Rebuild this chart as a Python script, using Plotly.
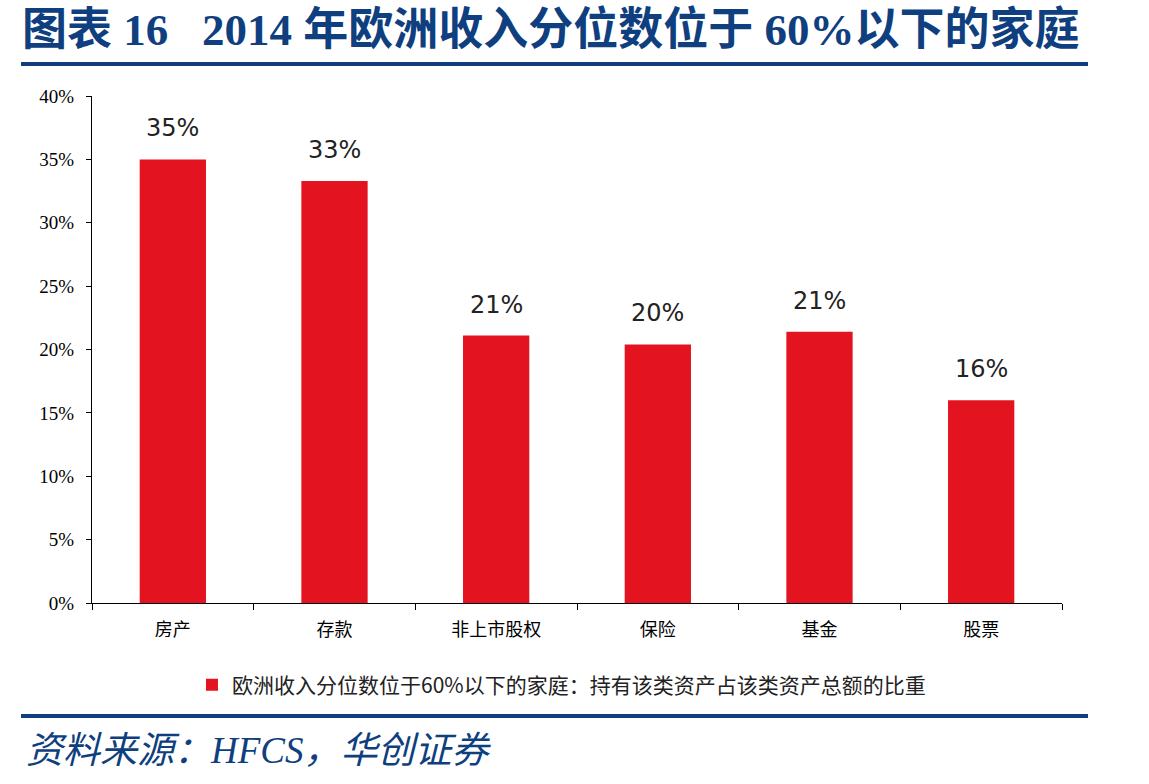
import plotly.graph_objects as go

categories = ["房产", "存款", "非上市股权", "保险", "基金", "股票"]
values = [0.350, 0.333, 0.211, 0.204, 0.214, 0.160]
series_name = "欧洲收入分位数位于60%以下的家庭：持有该类资产占该类资产总额的比重"
title_text = "图表 16   2014 年欧洲收入分位数位于 60%以下的家庭"
source_text = "资料来源：HFCS，华创证券"
y_ticks = [0, 0.05, 0.10, 0.15, 0.20, 0.25, 0.30, 0.35, 0.40]

W, H = 1149, 784
L, R, T, B = 92, 87, 96, 181
pw, ph = W - L - R, H - T - B

def px_x(x):
    return (x - L) / pw

def px_y(y):
    return (H - B - y) / ph

BLUE = "#0F3F7F"
RED = "#E3141F"

fig = go.Figure()
fig.add_trace(go.Bar(
    x=categories, y=values, name=series_name,
    marker=dict(color=RED, line=dict(width=0)),
    width=0.41,
))

for c, v in zip(categories, values):
    fig.add_annotation(x=c, y=v, text=f"{round(v*100):d}%", showarrow=False,
                       yanchor="bottom", yshift=15,
                       font=dict(family="DejaVu Sans", size=24, color="#222222"))

# title
fig.add_annotation(xref="paper", yref="paper", x=px_x(20), y=px_y(30),
                   xanchor="left", yanchor="middle", showarrow=False,
                   text=f"<b>{title_text}</b>",
                   font=dict(family="Liberation Serif, Noto Sans CJK SC", size=45, color=BLUE))
# source
fig.add_annotation(xref="paper", yref="paper", x=px_x(24), y=px_y(750),
                   xanchor="left", yanchor="middle", showarrow=False,
                   text=f"<i>{source_text}</i>",
                   font=dict(family="Liberation Serif, Noto Sans CJK SC", size=37, color=BLUE))

# rules
for yy in (64, 716):
    fig.add_shape(type="line", xref="paper", yref="paper",
                  x0=px_x(21), x1=px_x(1088), y0=px_y(yy), y1=px_y(yy),
                  line=dict(color=BLUE, width=4))

fig.update_layout(
    width=W, height=H,
    margin=dict(l=L, r=R, t=T, b=B, pad=0),
    paper_bgcolor="white", plot_bgcolor="white",
    showlegend=True,
    legend=dict(orientation="h", x=0.484, xanchor="center", y=px_y(685), yanchor="middle",
                font=dict(family="Noto Sans CJK SC", size=21, color="#222222"),
                itemwidth=30),
    xaxis=dict(showline=True, linecolor="black", linewidth=1, ticks="outside",
               tickson="boundaries", ticklen=6, tickcolor="black",
               tickfont=dict(family="Noto Sans CJK SC", size=18, color="black"),
               ticklabelstandoff=10, showgrid=False),
    yaxis=dict(range=[0, 0.4], tickvals=y_ticks, tickformat=".0%",
               showline=True, linecolor="black", linewidth=1, ticks="outside",
               ticklen=5, tickcolor="black", showgrid=False, zeroline=False,
               tickfont=dict(family="Liberation Serif", size=19, color="black"),
               ticklabelstandoff=8),
)

fig.write_html("out.html")
